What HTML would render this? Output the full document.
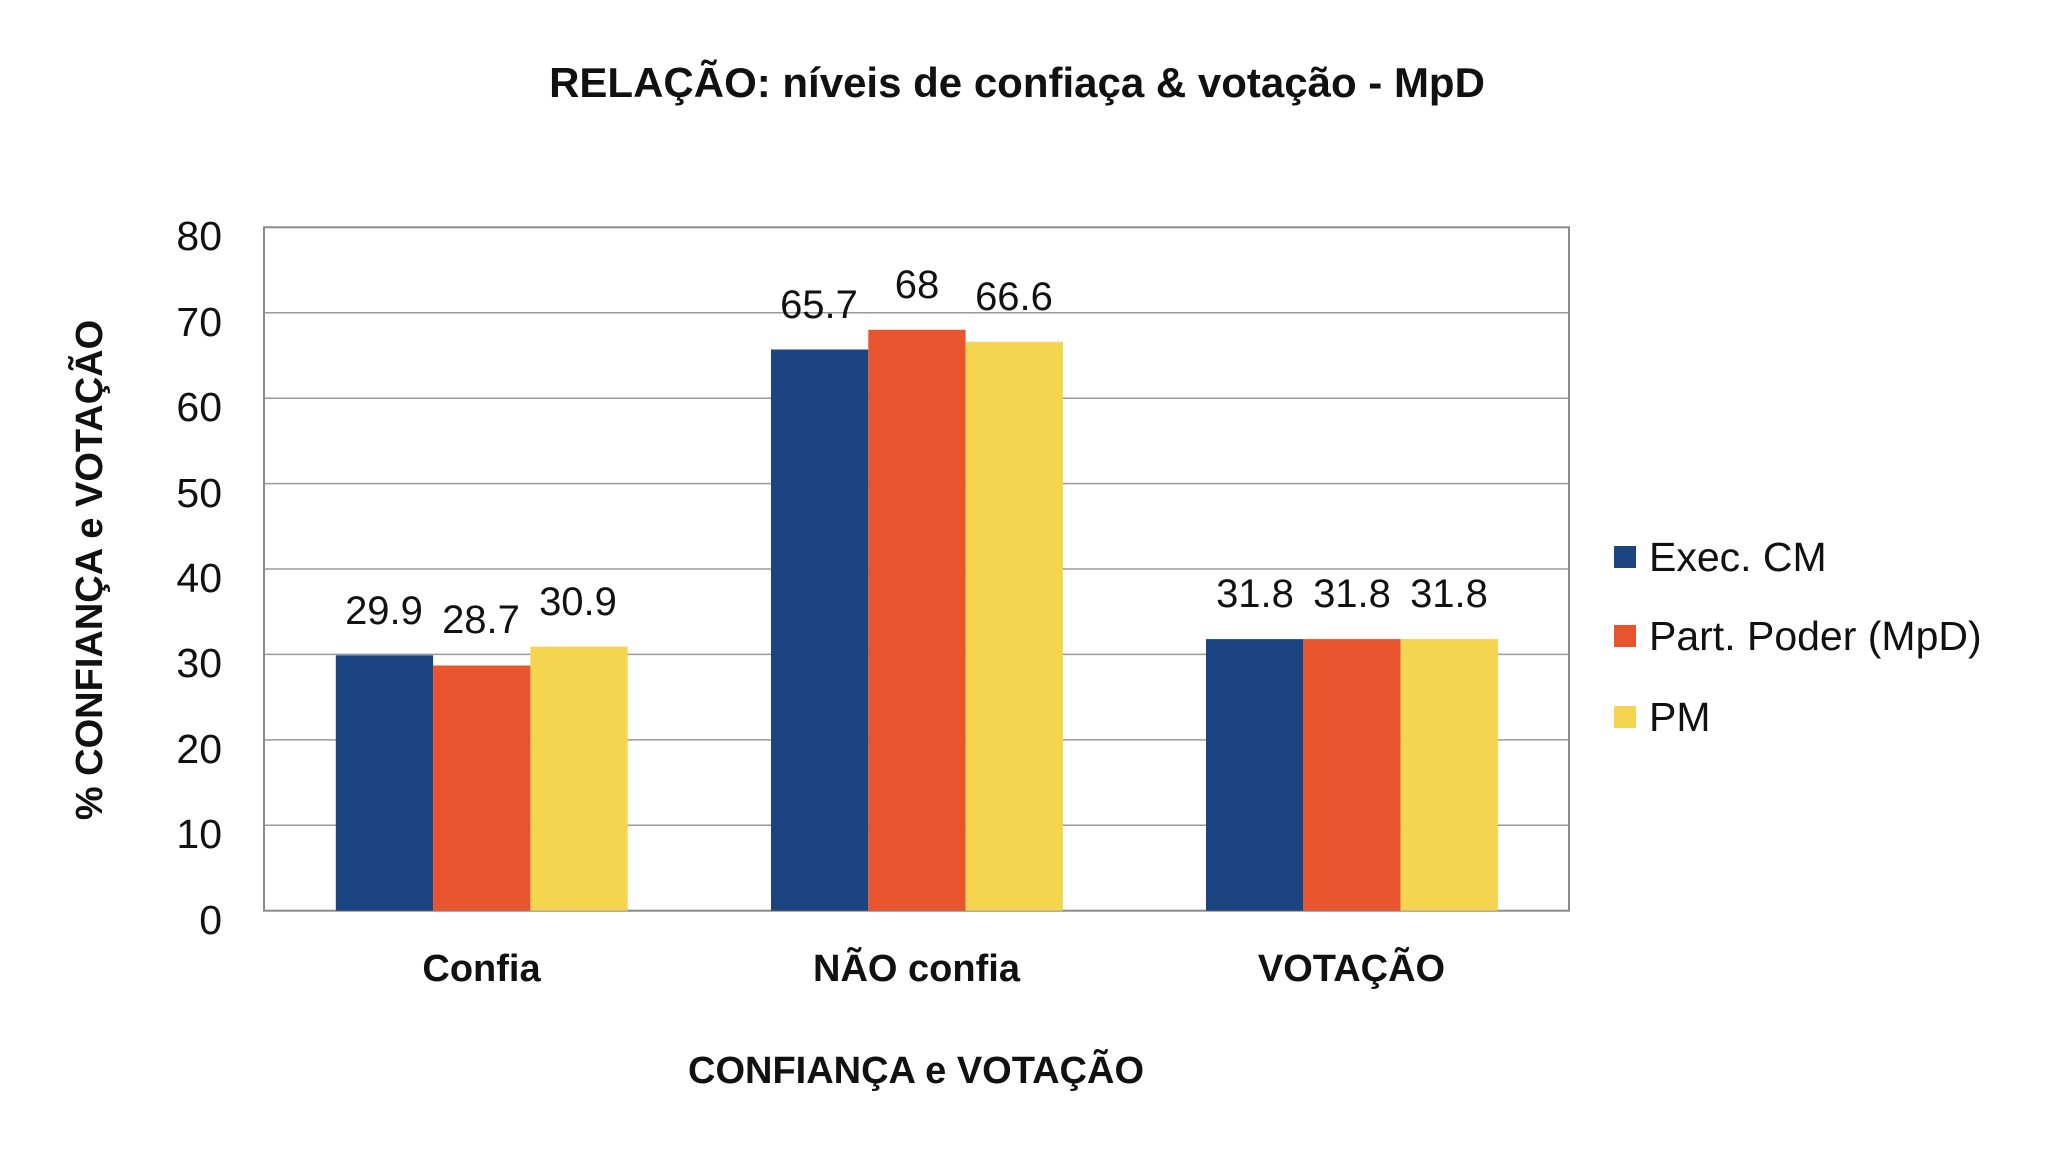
<!DOCTYPE html>
<html><head><meta charset="utf-8"><style>
html,body{margin:0;padding:0;background:#fff;}
svg{display:block;}
text{font-family:"Liberation Sans",sans-serif;fill:#111;}
</style></head><body>
<svg width="2048" height="1152" viewBox="0 0 2048 1152" xmlns="http://www.w3.org/2000/svg">
<rect width="2048" height="1152" fill="#fff"/>
<text x="1017" y="97" font-size="42" font-weight="bold" text-anchor="middle">RELAÇÃO: níveis de confiaça &amp; votação - MpD</text>
<g stroke="#9a9a9a" stroke-width="1.5">
<line x1="264" x2="1569" y1="312.7" y2="312.7"/>
<line x1="264" x2="1569" y1="398.2" y2="398.2"/>
<line x1="264" x2="1569" y1="483.6" y2="483.6"/>
<line x1="264" x2="1569" y1="569" y2="569"/>
<line x1="264" x2="1569" y1="654.4" y2="654.4"/>
<line x1="264" x2="1569" y1="739.9" y2="739.9"/>
<line x1="264" x2="1569" y1="825.3" y2="825.3"/>
</g>
<rect x="264" y="227.3" width="1305" height="683.4" fill="none" stroke="#8a8a8a" stroke-width="2"/>
<g font-size="41" text-anchor="end">
<text x="222" y="934">0</text><text x="222" y="848">10</text><text x="222" y="763">20</text><text x="222" y="677">30</text>
<text x="222" y="592">40</text><text x="222" y="507">50</text><text x="222" y="421">60</text><text x="222" y="336">70</text><text x="222" y="250">80</text>
</g>
<rect x="335.8" y="655.3" width="97.3" height="255.4" fill="#1c4480"/>
<rect x="433.1" y="665.5" width="97.3" height="245.2" fill="#e8542e"/>
<rect x="530.4" y="646.7" width="97.3" height="264" fill="#f5d44f"/>
<rect x="771" y="349.5" width="97.3" height="561.2" fill="#1c4480"/>
<rect x="868.3" y="329.8" width="97.3" height="580.9" fill="#e8542e"/>
<rect x="965.6" y="341.8" width="97.3" height="568.9" fill="#f5d44f"/>
<rect x="1206" y="639.1" width="97.3" height="271.6" fill="#1c4480"/>
<rect x="1303.3" y="639.1" width="97.3" height="271.6" fill="#e8542e"/>
<rect x="1400.6" y="639.1" width="97.3" height="271.6" fill="#f5d44f"/>
<g font-size="40" text-anchor="middle">
<text x="384" y="624">29.9</text><text x="481" y="633">28.7</text><text x="578" y="615">30.9</text>
<text x="819" y="318">65.7</text><text x="917" y="298">68</text><text x="1014" y="310">66.6</text>
<text x="1255" y="607">31.8</text><text x="1352" y="607">31.8</text><text x="1449" y="607">31.8</text>
</g>
<g font-size="38" font-weight="bold" text-anchor="middle">
<text x="481.5" y="981">Confia</text>
<text x="916.5" y="981">NÃO confia</text>
<text x="1351.5" y="981">VOTAÇÃO</text>
<text x="916" y="1083">CONFIANÇA e VOTAÇÃO</text>
<text transform="translate(102,570) rotate(-90)">% CONFIANÇA e VOTAÇÃO</text>
</g>
<rect x="1614" y="546" width="22" height="22" fill="#1c4480"/>
<rect x="1614" y="625" width="22" height="22" fill="#e8542e"/>
<rect x="1614" y="706" width="22" height="22" fill="#f5d44f"/>
<g font-size="41">
<text x="1649" y="571">Exec. CM</text>
<text x="1649" y="650">Part. Poder (MpD)</text>
<text x="1649" y="731">PM</text>
</g>
</svg>
</body></html>
